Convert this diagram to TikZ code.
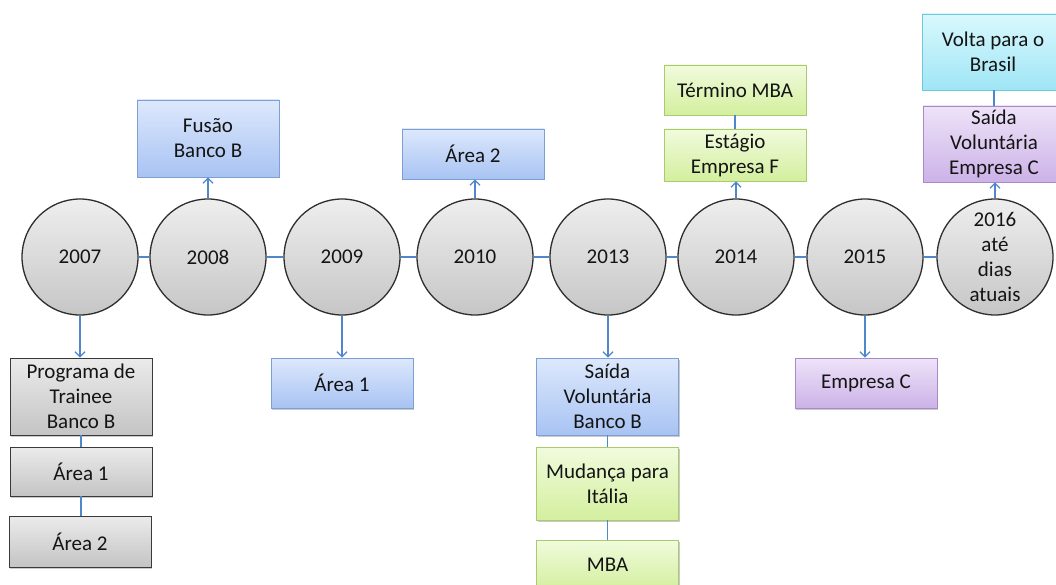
\documentclass[tikz,border=0pt]{standalone}
\usepackage{fontspec}
\setmainfont{Carlito}
\usetikzlibrary{arrows.meta,shadows}

% colours of the year discs and event boxes
\definecolor{discTop}{HTML}{EEEEEE}
\definecolor{discBot}{HTML}{C6C6C6}
\definecolor{discLine}{HTML}{2E2E2E}
\definecolor{grayTop}{HTML}{EBEBEB}
\definecolor{grayBot}{HTML}{C4C4C4}
\definecolor{grayLine}{HTML}{3A3A3A}
\definecolor{blueTop}{HTML}{DDE8FC}
\definecolor{blueBot}{HTML}{A8C3F3}
\definecolor{blueLine}{HTML}{7C9FD6}
\definecolor{greenTop}{HTML}{F1FBDD}
\definecolor{greenBot}{HTML}{D3EF9E}
\definecolor{greenLine}{HTML}{A9CB6E}
\definecolor{purpTop}{HTML}{EEE3F8}
\definecolor{purpBot}{HTML}{CCB2E8}
\definecolor{purpLine}{HTML}{A88AC6}
\definecolor{cyanTop}{HTML}{D9F8FD}
\definecolor{cyanBot}{HTML}{9FE6F6}
\definecolor{cyanLine}{HTML}{6FC7DC}
\definecolor{linkBlue}{HTML}{4F86CC}

\tikzset{
  txt/.style={font=\fontsize{21}{25}\selectfont, text=black!92, align=center, inner sep=0pt},
  disc/.style={txt, circle, minimum size=116pt, draw=discLine, line width=1.3pt,
    top color=discTop, bottom color=discBot},
  evbox/.style={txt, rectangle, minimum width=142pt, line width=0.9pt,
    drop shadow={shadow xshift=1.2pt, shadow yshift=-1.5pt, opacity=0.35, fill=black!60}},
  graybox/.style={evbox, draw=grayLine, top color=grayTop, bottom color=grayBot},
  bluebox/.style={evbox, draw=blueLine, top color=blueTop, bottom color=blueBot},
  greenbox/.style={evbox, draw=greenLine, top color=greenTop, bottom color=greenBot},
  purpbox/.style={evbox, draw=purpLine, top color=purpTop, bottom color=purpBot},
  cyanbox/.style={evbox, draw=cyanLine, top color=cyanTop, bottom color=cyanBot},
  link/.style={draw=linkBlue, line width=1.2pt},
  arrowlink/.style={link, -{Straight Barb[length=5pt,width=10pt]}},
}

\begin{document}
\begin{tikzpicture}[x=1pt,y=-1pt]
\useasboundingbox (0,0) rectangle (1056,585);
\clip (0,0) rectangle (1056,585);

% timeline discs
\node[disc] (y07) at (80,257) {2007};
\node[disc] (y08) at (208,257) {2008};
\node[disc] (y09) at (342,257) {2009};
\node[disc] (y10) at (475,257) {2010};
\node[disc] (y13) at (608,257) {2013};
\node[disc] (y14) at (736,257) {2014};
\node[disc] (y15) at (865,257) {2015};
\node[disc] (y16) at (995,257) {2016\\até\\dias\\atuais};

% events below the timeline
\node[graybox, minimum height=77pt] (trainee) at (81,396.5) {Programa de\\Trainee\\Banco B};
\node[graybox, minimum height=49pt] (areaA) at (81,471.5) {Área 1};
\node[graybox, minimum height=51pt] (areaB) at (80,541.5) {Área 2};
\node[bluebox, minimum height=50pt] (area1) at (342,383) {Área 1};
\node[bluebox, minimum height=77pt] (saidaB) at (607.5,396.5) {Saída\\Voluntária\\Banco B};
\node[greenbox, minimum height=73pt] (italia) at (607.5,483.5) {Mudança para\\Itália};
\node[greenbox, minimum height=50pt] (mba) at (607.5,565) {MBA};
\node[purpbox, minimum height=50pt] (empC) at (866,383) {Empresa C};

% events above the timeline
\node[bluebox, minimum height=77pt] (fusao) at (208,138.5) {Fusão\\Banco B};
\node[bluebox, minimum height=50pt] (area2) at (473,154) {Área 2};
\node[greenbox, minimum height=52pt] (estagio) at (735,155) {Estágio\\Empresa F};
\node[greenbox, minimum height=50pt] (termino) at (735,90) {Término MBA};
\node[purpbox, minimum height=76pt] (saidaC) at (994,144) {Saída\\Voluntária\\Empresa C};
\node[cyanbox, minimum height=76pt] (brasil) at (993,52) {Volta para o\\Brasil};

% links along the timeline
\draw[link] (y07) -- (y08);
\draw[link] (y08) -- (y09);
\draw[link] (y09) -- (y10);
\draw[link] (y10) -- (y13);
\draw[link] (y13) -- (y14);
\draw[link] (y14) -- (y15);
\draw[link] (y15) -- (y16);

% arrows from the discs to their events
\draw[arrowlink] (y07.south) -- (y07.south |- trainee.north);
\draw[arrowlink] (y08.north) -- (y08.north |- fusao.south);
\draw[arrowlink] (y09.south) -- (y09.south |- area1.north);
\draw[arrowlink] (y10.north) -- (y10.north |- area2.south);
\draw[arrowlink] (y13.south) -- (y13.south |- saidaB.north);
\draw[arrowlink] (y14.north) -- (y14.north |- estagio.south);
\draw[arrowlink] (y15.south) -- (y15.south |- empC.north);
\draw[arrowlink] (y16.north) -- (y16.north |- saidaC.south);

% links between stacked events
\draw[link, line width=2pt] (trainee.south) -- (trainee.south |- areaA.north);
\draw[link] (areaA.south) -- (areaA.south |- areaB.north);
\draw[link] (saidaB.south) -- (saidaB.south |- italia.north);
\draw[link] (italia.south) -- (italia.south |- mba.north);
\draw[link] (estagio.north) -- (estagio.north |- termino.south);
\draw[link] (saidaC.north) -- (saidaC.north |- brasil.south);
\end{tikzpicture}
\end{document}
